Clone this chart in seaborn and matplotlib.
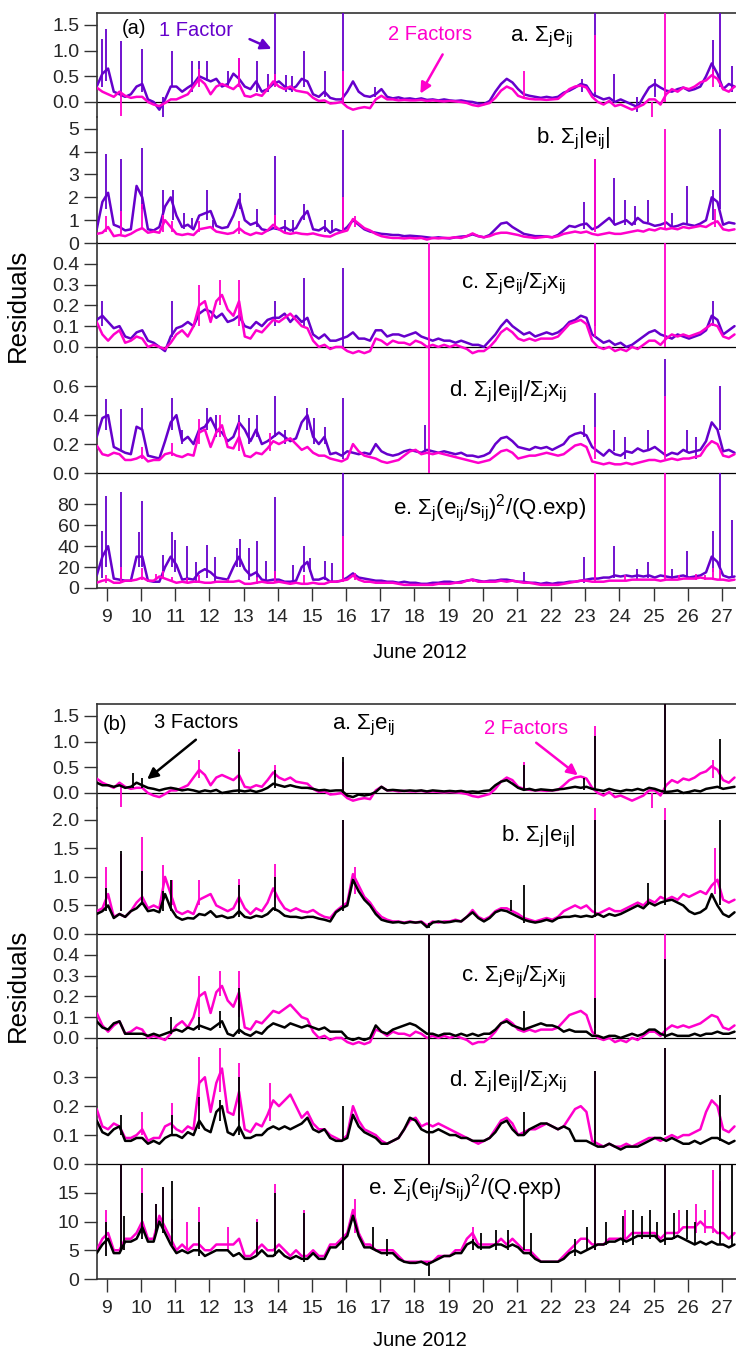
import numpy as np
import pandas as pd
import matplotlib
matplotlib.use("Agg")
import matplotlib.pyplot as plt
from matplotlib.patches import FancyArrowPatch
import seaborn as sns

sns.set_style("white")
plt.rcParams['font.family'] = ['Liberation Sans', 'DejaVu Sans']
plt.rcParams['mathtext.fontset'] = 'custom'
plt.rcParams['mathtext.rm'] = 'Liberation Sans'
plt.rcParams['mathtext.it'] = 'Liberation Sans:italic'
plt.rcParams['mathtext.bf'] = 'Liberation Sans:bold'

# ---------------- data ----------------
# regular 4-hourly sampling, June 2012 (day of month)
T_START, T_STEP, N_PTS = 8.70, 1.0 / 6.0, 113
day_ticks = list(range(9, 28))

# panel a : sum_j e_ij
one_a = [0.30, 0.55,
         0.65, 0.20, 0.15, 0.10, 0.15, 0.30,
         0.35, 0.05, 0.00, -0.15, 0.05, 0.30,
         0.30, 0.20, 0.28, 0.35, 0.50, 0.45,
         0.40, 0.45, 0.30, 0.35, 0.55, 0.45,
         0.30, 0.25, 0.40, 0.20, 0.25, 0.35,
         0.40, 0.30, 0.25, 0.30, 0.45, 0.40,
         0.15, 0.10, 0.20, 0.08, 0.05, 0.05,
         0.20, 0.40, 0.20, 0.12, 0.10, 0.15,
         0.25, 0.10, 0.07, 0.09, 0.06, 0.07,
         0.05, 0.07, 0.04, 0.05, 0.03, 0.05,
         0.03, 0.02, 0.03, 0.01, 0.00, -0.03,
         -0.04, 0.02, 0.20, 0.35, 0.45, 0.38,
         0.25, 0.15, 0.12, 0.10, 0.08, 0.10,
         0.08, 0.10, 0.18, 0.22, 0.28, 0.35,
         0.32, 0.15, 0.10, 0.05, 0.08, 0.00,
         0.05, 0.00, -0.05, -0.10, 0.10, 0.28,
         0.35, 0.28, 0.22, 0.20, 0.25, 0.28,
         0.22, 0.25, 0.30, 0.50, 0.75, 0.55,
         0.25, 0.35, 0.30]
two_a = [0.28, 0.20,
         0.15, 0.10, 0.20, 0.12, 0.08, 0.10,
         0.10, 0.00, -0.05, -0.08, -0.02, 0.05,
         0.05, 0.10, 0.15, 0.30, 0.45, 0.35,
         0.15, 0.30, 0.35, 0.30, 0.25, 0.35,
         0.12, 0.10, 0.15, 0.12, 0.25, 0.40,
         0.30, 0.25, 0.30, 0.22, 0.20, 0.18,
         0.08, 0.02, 0.03, -0.03, -0.02, 0.00,
         -0.10, -0.15, -0.12, -0.10, -0.12, 0.05,
         0.12, 0.05, 0.05, 0.03, 0.04, 0.03,
         0.03, 0.04, 0.02, 0.03, 0.02, 0.01,
         0.02, 0.01, 0.00, -0.02, -0.06, -0.08,
         -0.05, -0.02, 0.08, 0.22, 0.30, 0.25,
         0.12, 0.08, 0.06, 0.05, 0.05, 0.04,
         0.05, 0.06, 0.15, 0.25, 0.30, 0.32,
         0.28, 0.10, 0.00, -0.05, 0.02, -0.08,
         -0.05, -0.10, -0.15, -0.10, -0.05, 0.05,
         0.05, -0.05, 0.15, 0.25, 0.20, 0.28,
         0.25, 0.30, 0.38, 0.42, 0.52, 0.45,
         0.25, 0.20, 0.30]
three_a = [0.20, 0.15,
           0.15, 0.12, 0.15, 0.10, 0.12, 0.20,
           0.15, 0.10, 0.08, 0.05, 0.08, 0.10,
           0.08, 0.05, 0.07, 0.05, 0.02, 0.05,
           0.03, 0.06, 0.00, 0.02, 0.04, 0.05,
           0.03, 0.05, 0.02, 0.05, 0.10, 0.18,
           0.15, 0.12, 0.15, 0.12, 0.10, 0.10,
           0.08, 0.05, 0.06, 0.04, 0.05, 0.05,
           -0.05, -0.08, -0.03, -0.05, -0.03, 0.02,
           0.12, 0.05, 0.06, 0.05, 0.04, 0.05,
           0.04, 0.05, 0.03, 0.05, 0.04, 0.03,
           0.04, 0.03, 0.04, 0.02, 0.03, 0.02,
           0.04, 0.05, 0.15, 0.22, 0.25, 0.18,
           0.10, 0.06, 0.08, 0.05, 0.07, 0.06,
           0.05, 0.07, 0.08, 0.10, 0.12, 0.10,
           0.12, 0.08, 0.06, 0.04, 0.08, 0.05,
           0.03, 0.06, 0.05, 0.08, 0.05, 0.10,
           0.08, 0.04, 0.02, 0.03, 0.05, 0.00,
           0.02, 0.05, 0.03, 0.08, 0.10, 0.12,
           0.08, 0.10, 0.12]

# panel b : sum_j |e_ij|
one_b = [0.60, 1.80,
         2.20, 0.80, 0.70, 0.55, 0.60, 2.50,
         2.00, 0.60, 0.55, 0.70, 1.60, 2.00,
         1.20, 0.70, 0.80, 0.60, 1.20, 1.30,
         1.40, 0.75, 0.65, 0.70, 1.20, 1.90,
         1.00, 0.80, 0.90, 0.60, 0.55, 0.65,
         0.60, 0.70, 0.55, 0.65, 1.10, 1.40,
         0.60, 0.55, 0.70, 0.45, 0.60, 0.50,
         0.70, 1.00, 0.80, 0.60, 0.50, 0.45,
         0.40, 0.38, 0.35, 0.35, 0.30, 0.32,
         0.30, 0.28, 0.25, 0.22, 0.25, 0.22,
         0.20, 0.25, 0.28, 0.30, 0.38, 0.30,
         0.25, 0.35, 0.60, 0.85, 0.90, 0.70,
         0.55, 0.40, 0.35, 0.30, 0.30, 0.28,
         0.25, 0.35, 0.55, 0.75, 0.70, 0.80,
         0.85, 0.60, 0.70, 0.90, 1.10, 0.80,
         0.90, 1.00, 0.80, 1.10, 0.90, 0.85,
         0.75, 0.80, 0.90, 0.70, 0.75, 0.85,
         0.80, 0.75, 0.85, 1.00, 2.00, 1.80,
         0.80, 0.90, 0.85]
two_b = [0.40, 0.45,
         0.70, 0.30, 0.35, 0.30, 0.40, 0.55,
         0.65, 0.45, 0.50, 0.45, 1.00, 0.70,
         0.40, 0.35, 0.40, 0.35, 0.60, 0.65,
         0.70, 0.50, 0.45, 0.40, 0.45, 0.65,
         0.45, 0.35, 0.45, 0.40, 0.55, 0.80,
         0.60, 0.45, 0.40, 0.45, 0.40, 0.38,
         0.42, 0.35, 0.30, 0.28, 0.40, 0.48,
         0.55, 1.05, 0.85, 0.65, 0.55, 0.40,
         0.30, 0.25, 0.22, 0.22, 0.20, 0.22,
         0.20, 0.22, 0.15, 0.22, 0.20, 0.22,
         0.22, 0.25, 0.22, 0.30, 0.42, 0.30,
         0.25, 0.30, 0.40, 0.45, 0.45, 0.40,
         0.35, 0.28, 0.25, 0.22, 0.25, 0.28,
         0.25, 0.30, 0.40, 0.45, 0.50, 0.45,
         0.50, 0.40, 0.35, 0.40, 0.45, 0.40,
         0.40, 0.45, 0.50, 0.55, 0.50, 0.60,
         0.55, 0.65, 0.60, 0.65, 0.60, 0.70,
         0.65, 0.70, 0.75, 0.70, 0.85, 0.95,
         0.60, 0.55, 0.60]
three_b = [0.35, 0.40,
           0.50, 0.28, 0.35, 0.30, 0.40, 0.45,
           0.55, 0.40, 0.42, 0.38, 0.70, 0.45,
           0.30, 0.25, 0.28, 0.27, 0.35, 0.33,
           0.40, 0.30, 0.32, 0.28, 0.30, 0.40,
           0.30, 0.28, 0.32, 0.30, 0.35, 0.45,
           0.40, 0.32, 0.30, 0.30, 0.28, 0.30,
           0.30, 0.27, 0.25, 0.22, 0.38, 0.45,
           0.50, 0.95, 0.75, 0.60, 0.50, 0.35,
           0.25, 0.22, 0.20, 0.21, 0.19, 0.21,
           0.20, 0.21, 0.12, 0.20, 0.22, 0.20,
           0.21, 0.23, 0.22, 0.30, 0.38, 0.28,
           0.22, 0.28, 0.38, 0.42, 0.40, 0.35,
           0.30, 0.25, 0.22, 0.20, 0.22, 0.25,
           0.22, 0.28, 0.30, 0.30, 0.32, 0.30,
           0.32, 0.30, 0.35, 0.30, 0.35, 0.32,
           0.35, 0.40, 0.45, 0.50, 0.45, 0.55,
           0.50, 0.55, 0.58, 0.60, 0.55, 0.50,
           0.40, 0.35, 0.38, 0.45, 0.70, 0.50,
           0.35, 0.30, 0.38]

# panel c : sum_j e_ij / sum_j x_ij
one_c = [0.13, 0.15,
         0.12, 0.09, 0.10, 0.05, 0.04, 0.07,
         0.08, 0.03, 0.02, 0.00, -0.02, 0.05,
         0.09, 0.10, 0.12, 0.10, 0.16, 0.18,
         0.17, 0.14, 0.16, 0.12, 0.13, 0.15,
         0.10, 0.09, 0.12, 0.10, 0.13, 0.14,
         0.14, 0.16, 0.12, 0.15, 0.12, 0.14,
         0.06, 0.04, 0.06, 0.03, 0.03, 0.04,
         0.05, 0.07, 0.04, 0.04, 0.03, 0.08,
         0.08, 0.05, 0.06, 0.06, 0.05, 0.06,
         0.07, 0.05, 0.04, 0.03, 0.04, 0.03,
         0.03, 0.02, 0.03, 0.02, 0.01, 0.01,
         0.00, 0.03, 0.06, 0.10, 0.13, 0.10,
         0.08, 0.06, 0.07, 0.05, 0.06, 0.07,
         0.06, 0.07, 0.09, 0.12, 0.13, 0.15,
         0.14, 0.06, 0.04, 0.02, 0.03, 0.01,
         0.02, 0.00, 0.01, 0.03, 0.05, 0.07,
         0.08, 0.06, 0.05, 0.04, 0.06, 0.05,
         0.04, 0.05, 0.06, 0.08, 0.15, 0.13,
         0.06, 0.08, 0.10]
two_c = [0.12, 0.06,
         0.03, 0.06, 0.08, 0.02, 0.03, 0.05,
         0.04, 0.00, 0.01, 0.00, -0.01, 0.02,
         0.06, 0.08, 0.05, 0.10, 0.20, 0.22,
         0.12, 0.22, 0.25, 0.18, 0.15, 0.22,
         0.05, 0.04, 0.08, 0.07, 0.10, 0.13,
         0.12, 0.14, 0.16, 0.13, 0.10, 0.09,
         0.03, 0.00, 0.01, -0.01, 0.00, 0.00,
         -0.02, -0.03, -0.02, -0.03, -0.02, 0.04,
         0.03, 0.01, 0.03, 0.02, 0.02, 0.01,
         0.03, 0.02, 0.00, 0.01, 0.00, 0.01,
         0.00, 0.01, 0.00, -0.01, -0.03, -0.02,
         -0.02, 0.00, 0.03, 0.07, 0.09, 0.07,
         0.04, 0.03, 0.04, 0.03, 0.04, 0.04,
         0.04, 0.05, 0.08, 0.11, 0.12, 0.13,
         0.11, 0.03, 0.00, -0.01, 0.00, -0.02,
         -0.01, -0.02, 0.00, -0.01, 0.01, 0.03,
         0.03, 0.01, 0.04, 0.06, 0.05, 0.06,
         0.05, 0.06, 0.07, 0.09, 0.11, 0.10,
         0.05, 0.04, 0.06]
three_c = [0.08, 0.05,
           0.04, 0.07, 0.08, 0.02, 0.02, 0.02,
           0.02, 0.01, 0.02, 0.01, 0.02, 0.03,
           0.04, 0.03, 0.05, 0.04, 0.06, 0.05,
           0.04, 0.06, 0.08, 0.02, 0.01, 0.04,
           0.02, 0.01, 0.03, 0.02, 0.05, 0.07,
           0.06, 0.05, 0.07, 0.06, 0.05, 0.06,
           0.05, 0.04, 0.05, 0.03, 0.03, 0.03,
           0.00, -0.01, 0.00, -0.01, 0.00, 0.06,
           0.03, 0.02, 0.04, 0.05, 0.06, 0.07,
           0.06, 0.04, 0.02, 0.02, 0.01, 0.02,
           0.02, 0.01, 0.02, 0.01, 0.02, 0.01,
           0.02, 0.02, 0.04, 0.07, 0.08, 0.06,
           0.05, 0.04, 0.05, 0.06, 0.07, 0.06,
           0.06, 0.05, 0.03, 0.04, 0.03, 0.03,
           0.03, 0.01, 0.01, 0.00, 0.01, 0.01,
           0.00, 0.01, 0.02, 0.01, 0.02, 0.04,
           0.04, 0.02, 0.01, 0.02, 0.01, 0.01,
           0.01, 0.02, 0.01, 0.02, 0.02, 0.03,
           0.02, 0.02, 0.03]

# panel d : sum_j |e_ij| / sum_j x_ij
one_d = [0.25, 0.38,
         0.40, 0.18, 0.16, 0.14, 0.13, 0.32,
         0.30, 0.12, 0.11, 0.10, 0.22, 0.35,
         0.40, 0.22, 0.25, 0.20, 0.30, 0.32,
         0.38, 0.30, 0.28, 0.22, 0.25, 0.35,
         0.30, 0.22, 0.30, 0.20, 0.22, 0.25,
         0.28, 0.25, 0.22, 0.24, 0.35, 0.40,
         0.25, 0.20, 0.25, 0.13, 0.14, 0.12,
         0.15, 0.14, 0.13, 0.14, 0.13, 0.20,
         0.15, 0.13, 0.12, 0.13, 0.15, 0.16,
         0.15, 0.14, 0.16, 0.15, 0.14, 0.15,
         0.14, 0.13, 0.14, 0.12, 0.12, 0.11,
         0.12, 0.14, 0.20, 0.24, 0.25, 0.22,
         0.18, 0.17, 0.16, 0.18, 0.17, 0.18,
         0.16, 0.18, 0.20, 0.25, 0.27, 0.28,
         0.26, 0.18, 0.15, 0.12, 0.16, 0.13,
         0.12, 0.15, 0.14, 0.17, 0.15, 0.16,
         0.18, 0.15, 0.12, 0.14, 0.13, 0.16,
         0.14, 0.15, 0.16, 0.22, 0.35, 0.30,
         0.15, 0.16, 0.14]
two_d = [0.19, 0.13,
         0.12, 0.14, 0.13, 0.09, 0.09, 0.10,
         0.12, 0.08, 0.09, 0.09, 0.13, 0.14,
         0.12, 0.11, 0.13, 0.12, 0.28, 0.30,
         0.18, 0.28, 0.33, 0.18, 0.17, 0.25,
         0.12, 0.11, 0.14, 0.13, 0.17, 0.22,
         0.20, 0.22, 0.24, 0.20, 0.16, 0.18,
         0.14, 0.12, 0.12, 0.10, 0.09, 0.08,
         0.10, 0.20, 0.15, 0.12, 0.11, 0.10,
         0.08, 0.07, 0.08, 0.09, 0.12, 0.15,
         0.16, 0.13, 0.14, 0.13, 0.14, 0.13,
         0.12, 0.11, 0.10, 0.09, 0.08, 0.07,
         0.08, 0.09, 0.12, 0.15, 0.16, 0.14,
         0.10, 0.11, 0.12, 0.12, 0.13, 0.14,
         0.13, 0.12, 0.13, 0.16, 0.19, 0.20,
         0.18, 0.08, 0.07, 0.06, 0.07, 0.06,
         0.06, 0.07, 0.06, 0.07, 0.08, 0.09,
         0.09, 0.08, 0.09, 0.10, 0.09, 0.10,
         0.10, 0.11, 0.12, 0.18, 0.22, 0.20,
         0.12, 0.11, 0.13]
three_d = [0.15, 0.11,
           0.10, 0.12, 0.13, 0.08, 0.08, 0.09,
           0.09, 0.07, 0.08, 0.07, 0.09, 0.10,
           0.10, 0.09, 0.11, 0.10, 0.15, 0.12,
           0.11, 0.18, 0.20, 0.11, 0.10, 0.13,
           0.09, 0.09, 0.10, 0.10, 0.12, 0.13,
           0.12, 0.13, 0.12, 0.13, 0.14, 0.16,
           0.12, 0.11, 0.12, 0.09, 0.08, 0.08,
           0.09, 0.17, 0.13, 0.11, 0.10, 0.09,
           0.07, 0.07, 0.08, 0.09, 0.12, 0.16,
           0.15, 0.12, 0.11, 0.11, 0.12, 0.11,
           0.10, 0.10, 0.09, 0.09, 0.08, 0.08,
           0.08, 0.09, 0.11, 0.14, 0.15, 0.12,
           0.10, 0.10, 0.12, 0.13, 0.14, 0.14,
           0.13, 0.12, 0.13, 0.12, 0.08, 0.08,
           0.08, 0.07, 0.06, 0.06, 0.07, 0.06,
           0.05, 0.06, 0.06, 0.06, 0.07, 0.08,
           0.09, 0.09, 0.08, 0.09, 0.08, 0.07,
           0.07, 0.08, 0.07, 0.08, 0.09, 0.09,
           0.08, 0.07, 0.08]

# panel e : sum_j (e_ij/s_ij)^2 / Q.exp
one_e = [12, 30,
         40, 9, 8, 7, 7, 30,
         30, 7, 6, 6, 20, 30,
         22, 8, 9, 8, 15, 18,
         15, 10, 9, 8, 20, 30,
         18, 12, 15, 8, 7, 8,
         8, 6, 6, 7, 20, 25,
         8, 8, 10, 6, 6, 7,
         10, 14, 10, 9, 8, 7,
         7, 6, 6, 5, 6, 5,
         5, 4, 4, 5, 5, 6,
         6, 5, 6, 7, 8, 7,
         6, 7, 7, 8, 8, 7,
         6, 6, 5, 5, 4, 5,
         4, 5, 5, 6, 6, 7,
         8, 9, 9, 10, 10, 12,
         11, 12, 11, 12, 11, 12,
         10, 12, 11, 10, 11, 12,
         10, 11, 12, 15, 30, 25,
         12, 10, 11]
two_e = [5, 7,
         8, 5, 5, 7, 7, 8,
         10, 7, 7, 11, 9, 7,
         5, 6, 5, 6, 6, 5,
         5, 6, 6, 6, 6, 7,
         4, 4, 5, 6, 5, 5,
         6, 5, 4, 5, 4, 4,
         5, 4, 4, 6, 6, 7,
         8, 12, 8, 6, 6, 5,
         5, 5, 5, 4, 3, 3,
         3, 3, 3, 3, 4, 4,
         4, 5, 5, 7, 8, 6,
         6, 6, 6, 7, 6, 7,
         6, 5, 5, 4, 3, 3,
         3, 3, 4, 5, 6, 7,
         7, 6, 6, 6, 7, 7,
         7, 7, 8, 8, 8, 8,
         8, 7, 8, 8, 8, 9,
         9, 9, 10, 9, 9, 8,
         8, 7, 8]
three_e = [4.5, 6,
           7, 4.5, 4.5, 6.5, 6.5, 7,
           9, 6.5, 6.5, 10, 8, 6,
           4.5, 5, 4.5, 5, 5, 4,
           4.5, 5, 5, 5, 4, 4.5,
           3.5, 3.5, 4, 5, 4, 4,
           5, 4, 3.5, 4, 3.5, 3.5,
           4.5, 3.5, 3.5, 5.5, 5.5, 6.5,
           7.5, 11, 7.5, 5.5, 5.5, 5,
           4.5, 4.5, 4.5, 3.5, 3, 2.8,
           2.8, 3, 2.5, 3, 3.5, 4,
           4, 4.5, 4.5, 6, 6.5, 5.5,
           5.5, 5.5, 6, 6, 5.5, 6,
           5.5, 4.5, 4.5, 3.5, 3, 3,
           3, 3, 3.5, 4.5, 5, 4.5,
           5, 5.5, 6, 6, 6.5, 6.5,
           7, 6.5, 7, 7.5, 7.5, 7.5,
           7.5, 6.5, 7, 7, 7.5, 7,
           6.5, 6, 6.5, 6, 6.5, 6,
           6, 5.5, 6]

# short spikes (day, low, high)
one_a_spk = [(8.85, 0.3, 1.22), (8.97, 0.4, 1.42), (9.40, 0.1, 1.19), (10.03, 0.2, 1.03),
             (10.65, -0.30, 0.1), (10.89, 0.3, 1.0), (11.50, 0.2, 0.80), (11.69, 0.4, 0.80),
             (11.94, 0.4, 0.80), (12.55, 0.3, 0.60), (12.85, 0.3, 0.85), (13.38, 0.2, 0.80),
             (13.70, 0.2, 0.55), (13.93, 0.3, 1.75), (14.25, 0.2, 0.52), (14.43, 0.2, 0.50),
             (14.77, 0.3, 1.0), (15.38, 0.1, 0.60), (15.90, 0.0, 1.75), (16.85, 0.1, 0.30),
             (22.90, 0.2, 0.45), (23.29, 0.1, 1.75), (23.84, 0.0, 0.55), (24.50, -0.2, 0.1),
             (25.05, 0.1, 0.45), (26.75, 0.5, 1.20), (26.94, 0.3, 1.75), (27.30, 0.2, 0.70)]
two_a_spk = [(9.40, -0.27, 0.15), (11.69, 0.3, 0.65), (12.85, 0.3, 0.85), (13.93, 0.3, 0.55),
             (15.90, 0.0, 0.60), (21.20, 0.05, 0.60), (23.29, 0.2, 1.30), (25.33, 0.0, 1.75),
             (24.95, -0.30, 0.0), (26.75, 0.3, 0.65)]
three_a_spk = [(9.77, 0.1, 0.38), (10.03, 0.1, 0.30), (12.85, 0.0, 0.80), (13.93, 0.1, 0.45),
               (15.90, 0.0, 0.70), (21.20, 0.05, 0.55), (22.97, 0.05, 0.30), (23.29, 0.05, 1.10),
               (25.33, -0.02, 1.75), (26.94, 0.1, 1.05)]
one_b_spk = [(8.97, 1.5, 3.9), (9.40, 0.6, 3.7), (10.03, 1.5, 4.15), (10.65, 1.0, 2.3),
             (10.92, 1.0, 2.3), (11.25, 0.6, 1.3), (11.50, 0.6, 1.1), (11.94, 1.0, 2.3),
             (12.10, 0.6, 1.0), (12.88, 1.5, 2.2), (13.38, 0.7, 1.5), (13.93, 0.6, 3.8),
             (14.20, 0.5, 1.0), (14.45, 0.5, 1.0), (14.77, 1.0, 1.7), (15.38, 0.5, 1.0),
             (15.60, 0.5, 1.0), (15.90, 0.5, 4.95), (22.97, 0.6, 1.8), (23.29, 0.7, 3.7),
             (23.84, 0.8, 2.85), (24.15, 0.8, 1.9), (24.45, 0.8, 1.6), (24.82, 0.9, 1.9),
             (25.55, 0.7, 1.3), (25.97, 0.8, 2.5), (26.75, 1.0, 2.3), (26.94, 1.5, 5.0)]
two_b_spk = [(8.97, 0.5, 1.17), (9.40, 0.4, 1.40), (10.03, 0.6, 1.70), (10.65, 0.5, 1.21),
             (10.89, 0.5, 0.95), (11.69, 0.5, 0.95), (12.85, 0.4, 0.97), (13.93, 0.6, 1.22),
             (15.90, 0.5, 2.0), (16.26, 0.7, 1.18), (23.29, 0.5, 3.7), (25.33, 0.6, 5.0),
             (26.80, 0.7, 1.5)]
three_b_spk = [(8.97, 0.4, 0.8), (9.40, 0.4, 1.45), (10.03, 0.5, 1.10), (10.65, 0.4, 0.75),
               (10.87, 0.4, 0.95), (12.85, 0.3, 0.85), (13.93, 0.4, 1.0), (15.90, 0.4, 2.0),
               (18.43, 0.1, 0.2), (20.83, 0.4, 0.60), (21.20, 0.2, 0.85), (23.29, 0.3, 2.0),
               (24.82, 0.5, 0.9), (25.33, 0.5, 2.0), (26.94, 0.5, 2.0)]
one_c_spk = [(8.85, 0.1, 0.22), (10.89, 0.05, 0.22), (13.93, 0.1, 0.22), (14.77, 0.1, 0.33),
             (15.90, 0.0, 0.38), (23.29, 0.1, 0.50), (26.75, 0.1, 0.22)]
two_c_spk = [(11.69, 0.1, 0.30), (12.31, 0.2, 0.32), (12.85, 0.1, 0.32), (18.43, -0.05, 0.6),
             (23.29, 0.05, 0.5), (25.33, 0.0, 0.6)]
three_c_spk = [(10.87, 0.02, 0.10), (11.69, 0.04, 0.10), (12.31, 0.05, 0.13), (12.85, 0.02, 0.24),
               (18.43, -0.05, 0.6), (21.20, 0.04, 0.13), (23.29, 0.02, 0.19), (25.33, 0.0, 0.38)]
one_d_spk = [(8.97, 0.3, 0.51), (9.40, 0.15, 0.44), (10.03, 0.3, 0.45), (10.89, 0.3, 0.52),
             (11.20, 0.2, 0.30), (11.94, 0.3, 0.45), (12.20, 0.25, 0.40), (12.85, 0.3, 0.40),
             (13.15, 0.2, 0.38), (13.38, 0.25, 0.40), (13.93, 0.25, 0.53), (14.20, 0.2, 0.30),
             (14.85, 0.3, 0.45), (15.05, 0.2, 0.38), (15.38, 0.2, 0.32), (15.90, 0.1, 0.52),
             (18.30, 0.15, 0.33), (22.97, 0.25, 0.33), (23.29, 0.2, 0.55), (23.84, 0.15, 0.30),
             (24.15, 0.1, 0.25), (24.82, 0.15, 0.30), (25.33, 0.15, 0.79), (25.97, 0.15, 0.30),
             (26.25, 0.1, 0.25), (26.94, 0.3, 0.60)]
two_d_spk = [(10.03, 0.1, 0.18), (10.89, 0.12, 0.21), (11.69, 0.2, 0.37), (12.31, 0.25, 0.40),
             (12.85, 0.15, 0.35), (13.77, 0.15, 0.28), (18.43, 0.0, 0.9), (23.29, 0.1, 0.32),
             (25.33, 0.1, 0.53)]
three_d_spk = [(9.40, 0.1, 0.17), (10.89, 0.1, 0.17), (11.69, 0.12, 0.23), (12.31, 0.15, 0.22),
               (12.85, 0.1, 0.30), (15.90, 0.08, 0.20), (18.43, 0.0, 0.9), (21.20, 0.1, 0.18),
               (23.29, 0.07, 0.32), (25.33, 0.1, 0.40), (26.94, 0.08, 0.24)]
one_e_spk = [(8.85, 10, 55), (8.97, 20, 88), (9.40, 8, 92), (9.95, 20, 54), (10.03, 20, 83),
             (10.65, 10, 32), (10.89, 20, 54), (11.00, 15, 46), (11.35, 8, 40), (11.60, 5, 25),
             (11.94, 10, 41), (12.15, 5, 30), (12.82, 20, 38), (12.90, 20, 47), (13.15, 8, 38),
             (13.38, 10, 45), (13.65, 5, 26), (13.93, 8, 87), (14.45, 5, 22), (14.77, 15, 40),
             (14.95, 15, 29), (15.38, 8, 26), (15.60, 5, 24), (15.90, 8, 110), (21.20, 5, 15),
             (22.97, 5, 30), (23.29, 8, 110), (23.84, 10, 40), (24.50, 8, 18), (24.82, 10, 25),
             (25.55, 8, 18), (25.97, 10, 35), (26.75, 15, 55), (26.94, 20, 110), (27.30, 10, 65)]
two_e_spk = [(8.97, 5, 12), (9.40, 5, 20), (10.03, 8, 19.3), (10.45, 8, 13), (10.65, 9, 16),
             (10.89, 8, 10.5), (11.35, 5, 10), (11.69, 5, 12.5), (12.55, 5, 9), (13.38, 4, 10.5),
             (13.93, 5, 16.5), (14.77, 4, 12), (15.90, 6, 50), (16.26, 8, 14), (19.70, 6, 9),
             (23.29, 5, 110), (24.15, 7, 12), (25.33, 7, 110), (25.75, 8, 12), (26.25, 8, 13),
             (26.50, 8, 12), (26.75, 8, 19), (26.94, 8, 17)]
three_e_spk = [(8.97, 4, 10), (9.40, 5, 20.5), (9.50, 5, 11), (10.03, 7, 15), (10.45, 8, 13),
               (10.65, 8, 16), (10.89, 6, 17), (11.69, 4, 10), (13.38, 4, 10), (13.93, 4, 15),
               (14.77, 3, 11.5), (15.90, 5, 20.5), (16.80, 5, 9), (17.20, 4, 7), (18.43, 0.5, 3),
               (19.70, 5, 7), (19.95, 5, 8), (20.40, 5, 8.5), (20.75, 5, 8.5), (21.20, 5, 15),
               (21.40, 4, 8), (22.70, 4, 7), (23.05, 5, 9), (23.29, 5, 20.5), (23.60, 6, 10),
               (24.10, 6, 11), (24.40, 6, 12), (24.65, 7, 11), (24.90, 7, 12), (25.10, 7, 10),
               (25.33, 6, 20.5), (25.60, 7, 11.5), (25.97, 7, 12), (26.20, 6, 10),
               (26.94, 6, 20.5), (27.30, 6, 20.5)]

for arr in (one_a, two_a, three_a, one_b, two_b, three_b, one_c, two_c, three_c,
            one_d, two_d, three_d, one_e, two_e, three_e):
    assert len(arr) == N_PTS, len(arr)

# ---------------- figure ----------------
W, H = 736, 1352
PURPLE, MAGENTA, BLACK = "#6600CC", "#FF00CC", "#000000"
times = T_START + T_STEP * np.arange(N_PTS)

fig = plt.figure(figsize=(W / 100, H / 100), dpi=100)

def fx(x):
    return x / W

def fy(y):
    return 1 - y / H

LEFT_PX = 96.7
tops = [13, 117.4, 243, 357.3, 473]
bots = [117.4, 243, 357.3, 473, 588]

panels_A = [dict(ylim=(-0.3, 1.73), ticks=[0, 0.5, 1.0, 1.5], fmt="{:.1f}"),
            dict(ylim=(0, 5.5), ticks=[0, 1, 2, 3, 4, 5], fmt="{:.0f}"),
            dict(ylim=(-0.05, 0.5), ticks=[0, 0.1, 0.2, 0.3, 0.4], fmt="{:.1f}"),
            dict(ylim=(0, 0.8), ticks=[0, 0.2, 0.4, 0.6], fmt="{:.1f}"),
            dict(ylim=(0, 110), ticks=[0, 20, 40, 60, 80], fmt="{:.0f}")]
panels_B = [dict(ylim=(-0.3, 1.73), ticks=[0, 0.5, 1.0, 1.5], fmt="{:.1f}"),
            dict(ylim=(0, 2.2), ticks=[0, 0.5, 1.0, 1.5, 2.0], fmt="{:.1f}"),
            dict(ylim=(-0.05, 0.5), ticks=[0, 0.1, 0.2, 0.3, 0.4], fmt="{:.1f}"),
            dict(ylim=(0, 0.4), ticks=[0, 0.1, 0.2, 0.3], fmt="{:.1f}"),
            dict(ylim=(0, 20), ticks=[0, 5, 10, 15], fmt="{:.0f}")]

series_A = [[(one_a, one_a_spk, PURPLE), (two_a, two_a_spk, MAGENTA)],
            [(one_b, one_b_spk, PURPLE), (two_b, two_b_spk, MAGENTA)],
            [(one_c, one_c_spk, PURPLE), (two_c, two_c_spk, MAGENTA)],
            [(one_d, one_d_spk, PURPLE), (two_d, two_d_spk, MAGENTA)],
            [(one_e, one_e_spk, PURPLE), (two_e, two_e_spk, MAGENTA)]]
series_B = [[(two_a, two_a_spk, MAGENTA), (three_a, three_a_spk, BLACK)],
            [(two_b, two_b_spk, MAGENTA), (three_b, three_b_spk, BLACK)],
            [(two_c, two_c_spk, MAGENTA), (three_c, three_c_spk, BLACK)],
            [(two_d, two_d_spk, MAGENTA), (three_d, three_d_spk, BLACK)],
            [(two_e, two_e_spk, MAGENTA), (three_e, three_e_spk, BLACK)]]

SPINE = "#333333"
TICK_FS = 14

def build_group(offset, panels, series):
    axes = []
    for i in range(5):
        top, bot = tops[i] + offset, bots[i] + offset
        ax = fig.add_axes([fx(LEFT_PX), fy(bot), fx(W - LEFT_PX), (bot - top) / H])
        ax.set_facecolor("none")
        for vals, spk, col in series[i]:
            df = pd.DataFrame({"day": times, "res": vals})
            sns.lineplot(data=df, x="day", y="res", ax=ax, color=col, lw=1.8,
                         estimator=None, sort=False, zorder=3)
            st, lo, hi = zip(*spk)
            ax.vlines(st, lo, hi, colors=col, lw=1.3, zorder=3)
        cfg = panels[i]
        ax.set_xlim(8.70, 27.41)
        ax.set_ylim(*cfg["ylim"])
        ax.set_yticks(cfg["ticks"])
        ax.set_yticklabels([cfg["fmt"].format(v) for v in cfg["ticks"]])
        ax.set_xlabel("")
        ax.set_ylabel("")
        ax.tick_params(axis="y", left=True, direction="out", length=9.5, width=1.0,
                       pad=3, labelsize=TICK_FS, color=SPINE)
        for s in ax.spines.values():
            s.set_color(SPINE)
            s.set_linewidth(1.2)
        ax.spines["right"].set_visible(False)
        ax.spines["top"].set_visible(i == 0)
        ax.spines["bottom"].set_visible(i == 4)
        if i < 4:
            ax.axhline(0, color="black", lw=0.9, zorder=2, clip_on=False)
            ax.tick_params(axis="x", bottom=False, labelbottom=False)
        else:
            ax.set_xticks(day_ticks)
            ax.set_xticklabels([str(d) for d in day_ticks])
            ax.tick_params(axis="x", bottom=True, direction="out", length=9, width=1.0,
                           pad=6, labelsize=TICK_FS, color=SPINE)
        axes.append(ax)
    return axes

axA = build_group(0, panels_A, series_A)
axB = build_group(691, panels_B, series_B)

# ---------------- annotations ----------------
def label(x, y, s, size=14.5, color="black", **kw):
    fig.text(fx(x), fy(y), s, ha="center", va="center", fontsize=size, color=color, **kw)

def arrow(x0, y0, x1, y1, color):
    fig.add_artist(FancyArrowPatch((fx(x0), fy(y0)), (fx(x1), fy(y1)),
                                   transform=fig.transFigure, arrowstyle="-|>",
                                   mutation_scale=16, color=color, lw=1.8))

lab_a = r"a. Σ$_{\mathrm{j}}$e$_{\mathrm{ij}}$"
lab_b = r"b. Σ$_{\mathrm{j}}$|e$_{\mathrm{ij}}$|"
lab_c = r"c. Σ$_{\mathrm{j}}$e$_{\mathrm{ij}}$/Σ$_{\mathrm{j}}$x$_{\mathrm{ij}}$"
lab_d = r"d. Σ$_{\mathrm{j}}$|e$_{\mathrm{ij}}$|/Σ$_{\mathrm{j}}$x$_{\mathrm{ij}}$"
lab_e = r"e. Σ$_{\mathrm{j}}$(e$_{\mathrm{ij}}$/s$_{\mathrm{ij}}$)$^{\mathrm{2}}$/(Q.exp)"
PL = 16

# group (a)
label(134, 28, "(a)")
label(196, 31, "1 Factor", color=PURPLE)
arrow(247, 38, 274, 50, PURPLE)
label(430, 34, "2 Factors", color=MAGENTA)
arrow(444, 52, 419, 96, MAGENTA)
label(542, 37, lab_a, size=PL)
label(573, 139, lab_b, size=PL)
label(514, 284, lab_c, size=PL)
label(508, 392, lab_d, size=PL)
label(490, 508, lab_e, size=PL)
label(18, 305, "Residuals", size=18.5, rotation=90)
label(420, 652, "June 2012")

# group (b)
label(115, 725, "(b)")
label(196, 722, "3 Factors")
arrow(198, 738, 145, 781, BLACK)
label(364, 725, lab_a, size=PL)
label(526, 729, "2 Factors", color=MAGENTA)
arrow(534, 741, 580, 777, MAGENTA)
label(538, 837, lab_b, size=PL)
label(514, 977, lab_c, size=PL)
label(508, 1082, lab_d, size=PL)
label(465, 1188, lab_e, size=PL)
label(18, 985, "Residuals", size=18.5, rotation=90)
label(420, 1340, "June 2012")

fig.savefig("out.png", dpi=100)
